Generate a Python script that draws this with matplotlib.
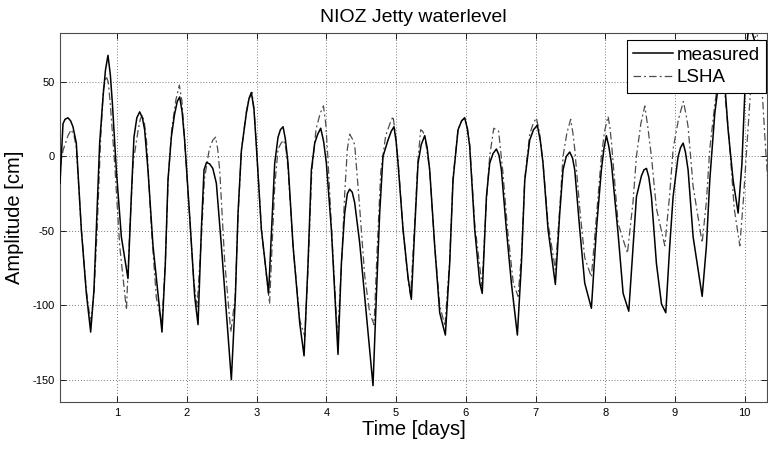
import matplotlib
matplotlib.use("Agg")
import matplotlib.pyplot as plt

plt.rcParams['font.family'] = ['Liberation Sans', 'DejaVu Sans']

title = "NIOZ Jetty waterlevel"
xlabel = "Time [days]"
ylabel = "Amplitude [cm]"
legend_labels = ["measured", "LSHA"]

xticks = [1, 2, 3, 4, 5, 6, 7, 8, 9, 10]
yticks = [-150, -100, -50, 0, 50]

# measured water level (time in days, amplitude in cm)
meas_t = [0.178, 0.221, 0.250, 0.292, 0.330, 0.364, 0.412, 0.484, 0.556, 0.618,
          0.665, 0.699, 0.747, 0.795, 0.830, 0.866, 0.900, 0.929, 0.986, 1.058,
          1.153, 1.201, 1.239, 1.280, 1.321, 1.360, 1.392, 1.440, 1.512, 1.641,
          1.689, 1.727, 1.775, 1.820, 1.860, 1.895, 1.930, 1.966, 2.038, 2.110,
          2.158, 2.206, 2.244, 2.280, 2.325, 2.370, 2.421, 2.493, 2.565, 2.636,
          2.694, 2.732, 2.780, 2.851, 2.890, 2.923, 2.960, 2.995, 3.067, 3.170,
          3.258, 3.306, 3.340, 3.378, 3.410, 3.449, 3.521, 3.617, 3.679, 3.736,
          3.784, 3.832, 3.875, 3.918, 3.960, 3.999, 4.071, 4.166, 4.214, 4.262,
          4.300, 4.333, 4.370, 4.405, 4.477, 4.549, 4.620, 4.668, 4.716, 4.764,
          4.811, 4.883, 4.930, 4.969, 5.000, 5.027, 5.099, 5.170, 5.218, 5.266,
          5.314, 5.360, 5.410, 5.445, 5.481, 5.553, 5.625, 5.706, 5.768, 5.816,
          5.888, 5.940, 5.983, 6.020, 6.055, 6.127, 6.200, 6.235, 6.295, 6.342,
          6.390, 6.438, 6.475, 6.510, 6.581, 6.653, 6.739, 6.797, 6.845, 6.916,
          6.970, 7.026, 7.070, 7.107, 7.179, 7.284, 7.347, 7.394, 7.440, 7.490,
          7.530, 7.562, 7.634, 7.705, 7.801, 7.873, 7.944, 7.980, 8.016, 8.050,
          8.088, 8.184, 8.256, 8.337, 8.399, 8.447, 8.519, 8.555, 8.591, 8.625,
          8.662, 8.734, 8.806, 8.868, 8.925, 8.973, 9.045, 9.080, 9.117, 9.150,
          9.188, 9.260, 9.332, 9.390, 9.451, 9.499, 9.571, 9.619, 9.670, 9.720,
          9.762, 9.834, 9.906, 9.960, 10.000, 10.030, 10.070, 10.110, 10.200, 10.330]
meas_v = [-18, 22, 25, 26, 24, 20, 9, -49, -92, -118,
          -90, -49, 9, 40, 58, 68, 55, 36, -9, -54,
          -82, -27, 13, 26, 30, 26, 18, -9, -60, -118,
          -72, -16, 13, 28, 37, 40, 30, 11, -40, -94,
          -113, -49, -9, -4, -5, -8, -18, -60, -105, -150,
          -94, -38, 4, 29, 39, 43, 32, 7, -49, -92,
          -4.5, 13, 18, 20, 12, -4.5, -60, -112, -134, -72,
          -9, 9, 15, 19, 10, -4.5, -49, -133, -72, -38,
          -25, -22, -24, -31, -58, -94, -130, -154, -94, -38,
          0, 11, 17, 20, 10, -4.5, -49, -81, -96, -49,
          -4.5, 8, 14, 6, -9, -60, -105, -120, -72, -16,
          18, 24, 26, 19, 7, -49, -85, -92, -27, -4.5,
          2, 5, 1, -9, -49, -85, -120, -72, -16, 11,
          18, 21, 10, -4.5, -49, -86, -38, -9, 0, 3,
          -1, -9, -49, -85, -102, -49, -9, 5, 14, 7,
          -4.5, -52, -92, -104, -60, -27, -13, -9, -8, -14,
          -27, -72, -99, -105, -60, -27, 0, 6, 9, 3,
          -9, -54, -76, -94, -60, -16, 29, 47, 55, 45,
          18, -16, -38, -5, 40, 75, 92, 83, 68, 46]

# least-squares harmonic analysis prediction
lsha_t = [0.178, 0.221, 0.292, 0.340, 0.380, 0.412, 0.484, 0.556, 0.618, 0.665,
          0.711, 0.760, 0.800, 0.841, 0.870, 0.900, 0.962, 1.034, 1.131, 1.179,
          1.227, 1.300, 1.330, 1.358, 1.390, 1.420, 1.490, 1.560, 1.640, 1.690,
          1.730, 1.780, 1.840, 1.890, 1.925, 1.960, 2.030, 2.100, 2.145, 2.206,
          2.250, 2.320, 2.370, 2.410, 2.440, 2.470, 2.540, 2.628, 2.690, 2.732,
          2.780, 2.850, 2.890, 2.933, 2.965, 2.995, 3.067, 3.184, 3.258, 3.306,
          3.350, 3.387, 3.420, 3.449, 3.521, 3.617, 3.690, 3.736, 3.790, 3.850,
          3.910, 3.957, 3.990, 4.020, 4.080, 4.160, 4.214, 4.262, 4.300, 4.333,
          4.370, 4.405, 4.470, 4.549, 4.620, 4.683, 4.730, 4.780, 4.850, 4.910,
          4.955, 4.990, 5.027, 5.099, 5.170, 5.208, 5.266, 5.314, 5.352, 5.380,
          5.410, 5.481, 5.553, 5.625, 5.700, 5.768, 5.816, 5.888, 5.940, 5.983,
          6.020, 6.055, 6.127, 6.232, 6.295, 6.342, 6.400, 6.470, 6.530, 6.600,
          6.680, 6.749, 6.800, 6.845, 6.916, 6.965, 7.012, 7.060, 7.107, 7.179,
          7.284, 7.347, 7.394, 7.450, 7.504, 7.535, 7.562, 7.634, 7.705, 7.801,
          7.873, 7.944, 7.990, 8.040, 8.065, 8.088, 8.184, 8.318, 8.399, 8.447,
          8.510, 8.567, 8.610, 8.662, 8.734, 8.854, 8.925, 8.973, 9.050, 9.120,
          9.160, 9.188, 9.260, 9.390, 9.451, 9.499, 9.571, 9.640, 9.700, 9.780,
          9.850, 9.930, 9.980, 10.050, 10.120, 10.170, 10.230, 10.300, 10.330]
lsha_v = [-8, 4, 14, 18, 14, 6, -49, -90, -112, -92,
          -49, 11, 45, 54, 50, 35, -4.5, -60, -103, -49,
          -4.5, 18, 25, 28, 22, 10, -49, -95, -112, -70,
          -15, 18, 38, 48, 38, 15, -35, -85, -101, -55,
          -15, 5, 11, 13, 5, -10, -70, -118, -95, -40,
          4, 30, 39, 43, 30, 7, -49, -99, -20, 5,
          9, 11, 5, -8, -60, -110, -121, -75, -10, 18,
          29, 34, 22, 0, -55, -122, -75, -25, 5, 15,
          12, 8, -30, -80, -105, -113, -60, -10, 14, 22,
          27, 15, -2, -49, -82, -94, -45, -2, 18, 17,
          14, -9, -60, -100, -114, -70, -14, 18, 24, 26,
          20, 8, -45, -87, -30, 0, 19, 17, -10, -50,
          -85, -94, -65, -15, 15, 22, 26, 15, -4.5, -45,
          -76, -35, 0, 16, 25, 16, 5, -35, -68, -81,
          -40, 0, 17, 27, 20, 10, -45, -65, -30, 0,
          22, 34, 20, 0, -35, -60, -25, 5, 25, 37,
          28, 20, -20, -58, -30, 5, 35, 58, 50, 10,
          -35, -60, -30, 20, 70, 86, 60, 5, -15]

fig = plt.figure(figsize=(7.68, 4.49), dpi=100)
ax = fig.add_axes([60/768, 1 - 402/449, 707/768, 369/449])

ax.plot(meas_t, meas_v, color='black', lw=1.1, label=legend_labels[0], zorder=3)
ax.plot(lsha_t, lsha_v, color='0.3', lw=0.9, dashes=(6, 2.5, 1.5, 2.5),
        label=legend_labels[1], zorder=2)

ax.set_xlim(0.178, 10.32)
ax.set_ylim(-165, 83)
ax.set_xticks(xticks)
ax.set_yticks(yticks)
ax.set_xticklabels([str(v) for v in xticks])
ax.set_yticklabels([str(v) for v in yticks])

ax.grid(True, color='0.3', linestyle=(0, (1, 2.5)), lw=0.6)
ax.tick_params(direction='in', length=4, width=0.6, top=True, right=True,
               labelsize=8, pad=4, colors='black')
for s in ax.spines.values():
    s.set_linewidth(0.8)
    s.set_color('0.3')

ax.set_title(title, fontsize=14, pad=8)
ax.set_xlabel(xlabel, fontsize=14.5, labelpad=2)
ax.set_ylabel(ylabel, fontsize=14.5, labelpad=6)

leg = ax.legend(loc='upper right', bbox_to_anchor=(0.9986, 0.981), borderaxespad=0,
                fancybox=False, framealpha=1, edgecolor='black', fontsize=13.5,
                handlelength=2.1, handletextpad=0.2, labelspacing=0.3,
                borderpad=0.35)
leg.get_frame().set_linewidth(0.8)
leg.set_zorder(5)

fig.savefig("out.png", dpi=100)
